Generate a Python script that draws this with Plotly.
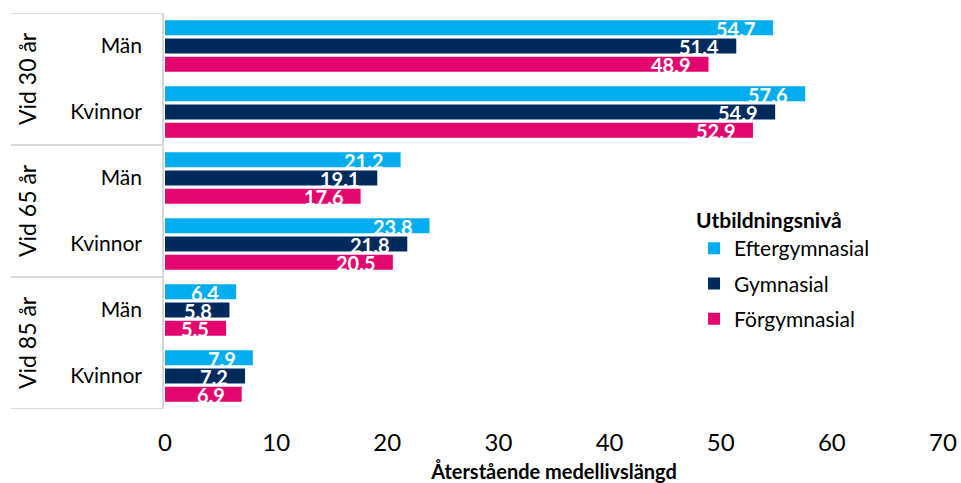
import plotly.graph_objects as go

subcats = ["Män", "Kvinnor", "Män", "Kvinnor", "Män", "Kvinnor"]
groups = ["Vid 30 år", "Vid 65 år", "Vid 85 år"]
series_names = ["Eftergymnasial", "Gymnasial", "Förgymnasial"]
eftergymnasial = [54.7, 57.6, 21.2, 23.8, 6.4, 7.9]
gymnasial = [51.4, 54.9, 19.1, 21.8, 5.8, 7.2]
forgymnasial = [48.9, 52.9, 17.6, 20.5, 5.5, 6.9]
x_ticks = [0, 10, 20, 30, 40, 50, 60, 70]

colors = ["#00ADEE", "#002B5C", "#E3066E"]
FONT = "Lato"
BARGAP = 0.167
W, H = 961, 483
L, R, T, B = 165, 18, 13, 74
PW = W - L - R

fig = go.Figure()
ypos = list(range(len(subcats)))
all_series = [eftergymnasial, gymnasial, forgymnasial]
for i, (name, vals) in enumerate(zip(series_names, all_series)):
    fig.add_trace(go.Bar(
        y=ypos, x=vals, orientation="h", name=name,
        marker=dict(color=colors[i], line=dict(width=0)),
        legendgroup=name,
    ))

# value labels placed at the end of each bar, inside
slot = (1 - BARGAP) / len(all_series)
for i, vals in enumerate(all_series):
    off = (i - (len(all_series) - 1) / 2) * slot
    for p, v in zip(ypos, vals):
        fig.add_annotation(x=v, y=p + off, xref="x", yref="y", text=f"<b>{v:.1f}</b>",
                           showarrow=False, xanchor="right", yanchor="middle",
                           xshift=-15, yshift=-1,
                           font=dict(family=FONT, size=20, color="white"))

fig.update_layout(
    width=W, height=H,
    margin=dict(l=L, r=R, t=T, b=B, autoexpand=False),
    paper_bgcolor="white", plot_bgcolor="white",
    barmode="group", bargap=BARGAP, bargroupgap=0.18,
    font=dict(family=FONT, color="#000000"),
    showlegend=True,
    legend=dict(
        title=dict(text="<b>Utbildningsnivå</b>", font=dict(size=21, family=FONT)),
        font=dict(size=21, family=FONT),
        x=0.68, y=0.526, xanchor="left", yanchor="top",
        tracegroupgap=5, traceorder="grouped",
        bgcolor="rgba(0,0,0,0)", itemwidth=30,
    ),
    xaxis=dict(
        range=[0, 70], tickvals=x_ticks, ticktext=[str(t) for t in x_ticks],
        showgrid=False, zeroline=False, showline=False, automargin=False,
        tickfont=dict(size=24, family=FONT), ticklabelstandoff=17,
        title=dict(text="<b>Återstående medellivslängd</b>", font=dict(size=20, family=FONT), standoff=15),
    ),
    yaxis=dict(
        range=[5.5, -0.5], tickvals=ypos, ticktext=subcats,
        showgrid=False, zeroline=False, showline=False, automargin=False,
        tickfont=dict(size=21, family=FONT), ticklabelstandoff=22, ticks="",
    ),
)

# Group separator lines and axis line
line_col = "#D9D9D9"
for k in range(len(groups) + 1):
    yv = -0.5 + 2 * k
    fig.add_shape(type="line", xref="paper", yref="y", x0=-154 / PW, x1=-2 / PW, y0=yv, y1=yv,
                  line=dict(color=line_col, width=2), layer="below")
fig.add_shape(type="line", xref="paper", yref="y", x0=-2 / PW, x1=-2 / PW, y0=-0.5, y1=5.5,
              line=dict(color=line_col, width=2), layer="below")

for k, g in enumerate(groups):
    fig.add_annotation(text=g, xref="paper", yref="y", x=-138 / PW, y=2 * k + 0.5,
                       textangle=-90, showarrow=False, font=dict(size=23, family=FONT),
                       xanchor="center", yanchor="middle")

fig.write_html(
    "out.html",
    config={"displayModeBar": False},
    post_script="document.body.style.margin='0px';document.documentElement.style.overflow='hidden';",
)
